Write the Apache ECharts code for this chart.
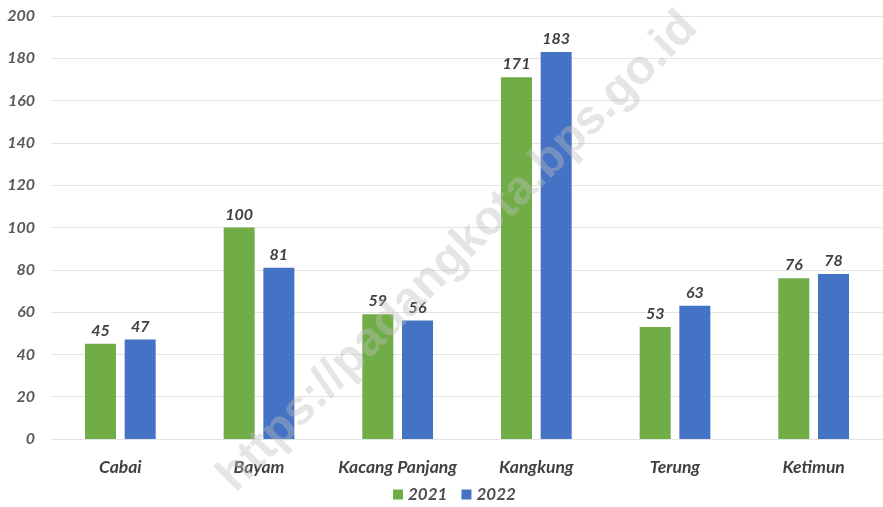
<!DOCTYPE html>
<html><head><meta charset="utf-8">
<script src="https://cdn.jsdelivr.net/npm/echarts@6/dist/echarts.min.js"></script>
<style>html,body{margin:0;padding:0;background:#fff}#c{width:883px;height:507px}</style>
</head><body><div id="c"></div>
<script>
const categories = ['Cabai', 'Bayam', 'Kacang Panjang', 'Kangkung', 'Terung', 'Ketimun'];
const series2021 = [45, 100, 59, 171, 53, 76];
const series2022 = [47, 81, 56, 183, 63, 78];
const seriesNames = ['2021', '2022'];
const yTicks = { min: 0, max: 200, interval: 20 };

const FONT = 'Lato';
const txt = { fontFamily: FONT, fontStyle: 'italic', fontWeight: 'bold', fontSize: 16, color: '#404040' };
const chart = echarts.init(document.getElementById('c'));
chart.setOption({
  animation: false,
  grid: { left: 51, width: 834, top: 16, bottom: 68, containLabel: false },
  legend: {
    bottom: -1, left: 388, itemWidth: 10, itemHeight: 10, itemGap: 14,
    icon: 'rect', textStyle: Object.assign({}, txt, { color: '#505050', fontSize: 17 }),
    data: seriesNames
  },
  xAxis: {
    type: 'category', data: categories,
    axisLine: { show: false }, axisTick: { show: false },
    axisLabel: Object.assign({}, txt, { fontSize: 17.5, margin: 19, interval: 0 })
  },
  yAxis: {
    type: 'value', min: yTicks.min, max: yTicks.max, interval: yTicks.interval,
    axisLine: { show: false }, axisTick: { show: false },
    axisLabel: Object.assign({}, txt, { color: '#595959', margin: 16 }),
    splitLine: { lineStyle: { color: '#e3e3e3', width: 1 } }
  },
  series: [
    { name: seriesNames[0], type: 'bar', data: series2021, barWidth: 31, barGap: '28%',
      itemStyle: { color: '#70AD47' },
      label: Object.assign({ show: true, position: 'top', distance: 5 }, txt) },
    { name: seriesNames[1], type: 'bar', data: series2022, barWidth: 31,
      itemStyle: { color: '#4472C4' },
      label: Object.assign({ show: true, position: 'top', distance: 5 }, txt) }
  ],
  graphic: [{
    type: 'text',
    x: 458, y: 252, rotation: Math.PI / 4, originX: 0, originY: 0,
    style: { text: 'https://padangkota.bps.go.id', x: 0, y: 0, align: 'center', verticalAlign: 'middle',
      font: 'bold 48px "Liberation Sans"', fill: 'rgba(190,190,190,0.4)' },
    z: 100
  }]
});
</script></body></html>
